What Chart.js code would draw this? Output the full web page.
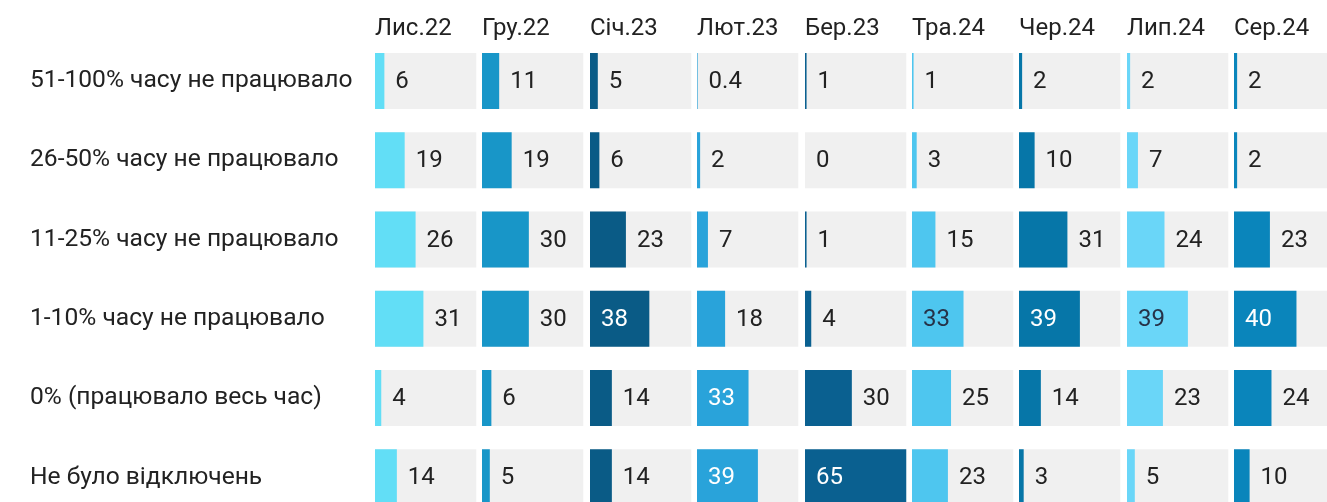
<!DOCTYPE html>
<html>
<head>
<meta charset="utf-8">
<script src="https://cdn.jsdelivr.net/npm/chart.js@4.4.1/dist/chart.umd.min.js"></script>
<style>
  html, body { margin: 0; padding: 0; background: #ffffff; }
  body { width: 1327px; height: 502px; overflow: hidden; position: relative; }
  canvas { position: absolute; top: 0; }
</style>
</head>
<body>
<script>
// ---- data ----
const categories = [
  '51-100% часу не працювало',
  '26-50% часу не працювало',
  '11-25% часу не працювало',
  '1-10% часу не працювало',
  '0% (працювало весь час)',
  'Не було відключень'
];
const months = ['Лис.22', 'Гру.22', 'Січ.23', 'Лют.23', 'Бер.23', 'Тра.24', 'Чер.24', 'Лип.24', 'Сер.24'];

const lis22 = [6, 19, 26, 31, 4, 14];
const gru22 = [11, 19, 30, 30, 6, 5];
const sich23 = [5, 6, 23, 38, 14, 14];
const lyut23 = [0.4, 2, 7, 18, 33, 39];
const ber23 = [1, 0, 1, 4, 30, 65];
const tra24 = [1, 3, 15, 33, 25, 23];
const cher24 = [2, 10, 31, 39, 14, 3];
const lyp24 = [2, 7, 24, 39, 23, 5];
const ser24 = [2, 2, 23, 40, 24, 10];

const series = [lis22, gru22, sich23, lyut23, ber23, tra24, cher24, lyp24, ser24];
const scaleMax = 65;

// ---- styles ----
const barColors = ['#62def6', '#1896c8', '#0a5b86', '#29a3da', '#0a6090', '#4ec6ef', '#0676a8', '#6ad6f8', '#0a85bb'];
const insideText = ['#263248', '#ffffff', '#ffffff', '#ffffff', '#ffffff', '#263248', '#ffffff', '#263248', '#ffffff'];
const trackColor = '#f0f0f0';
const textColor = '#222222';
const FONT = 'Roboto, "Liberation Sans", Arial, sans-serif';
const FS = 24;

const firstLeft = 375;
const pitch = 107.4;
const plotW = 101.5;
const colCanvasW = 107;
const canvasH = 517;

const valueLabels = {
  id: 'valueLabels',
  afterDatasetsDraw(chart) {
    const ctx = chart.ctx;
    const meta = chart.getDatasetMeta(0);
    const vals = chart.data.datasets[0].data;
    const idx = chart.options.plugins.valueLabels.col;
    ctx.save();
    ctx.font = FS + 'px ' + FONT;
    ctx.textBaseline = 'middle';
    ctx.textAlign = 'left';
    meta.data.forEach((bar, i) => {
      const v = vals[i];
      const inside = v >= 32;
      ctx.fillStyle = inside ? insideText[idx] : textColor;
      const x = inside ? bar.base + 11 : bar.x + 11;
      ctx.fillText(String(v), x, bar.y + 1);
    });
    ctx.restore();
  }
};

function makeChart(i) {
  const isFirst = i === 0;
  const canvas = document.createElement('canvas');
  const left = isFirst ? 0 : firstLeft + i * pitch;
  const w = isFirst ? Math.round(firstLeft + plotW + 5.5) : colCanvasW;
  canvas.width = w;
  canvas.height = canvasH;
  canvas.style.width = w + 'px';
  canvas.style.height = canvasH + 'px';
  canvas.style.left = left + 'px';
  document.body.appendChild(canvas);

  const leftPad = isFirst ? 30 : 0;
  const rightPad = w - (isFirst ? firstLeft : 0) - plotW;

  new Chart(canvas, {
    type: 'bar',
    data: {
      labels: categories,
      datasets: [
        {
          label: months[i],
          data: series[i],
          backgroundColor: barColors[i],
          grouped: false,
          barPercentage: 1,
          categoryPercentage: 56 / 79.2,
          order: 0
        },
        {
          label: 'track',
          data: categories.map(() => scaleMax),
          backgroundColor: trackColor,
          grouped: false,
          barPercentage: 1,
          categoryPercentage: 56 / 79.2,
          order: 1
        }
      ]
    },
    options: {
      indexAxis: 'y',
      responsive: false,
      animation: false,
      devicePixelRatio: 1,
      layout: { padding: { left: leftPad, right: rightPad, top: 0, bottom: 0 } },
      scales: {
        x: { display: false, min: 0, max: scaleMax },
        y: {
          display: isFirst,
          grid: { display: false },
          border: { display: false },
          ticks: {
            crossAlign: 'far',
            padding: 0,
            color: textColor,
            font: { family: FONT, size: 24.6 }
          },
          afterFit: (scale) => {
            if (isFirst) {
              scale.width = firstLeft - 30;
              scale.paddingTop = 0;
              scale.paddingBottom = 0;
            }
          }
        }
      },
      plugins: {
        legend: { display: false },
        tooltip: { enabled: false },
        title: {
          display: true,
          text: months[i],
          align: 'start',
          fullSize: false,
          color: textColor,
          font: { family: FONT, size: FS, weight: 'normal', lineHeight: 1.0 },
          padding: { top: 16.5, bottom: 0.9 }
        },
        valueLabels: { col: i }
      }
    },
    plugins: [valueLabels]
  });
}

for (let i = 0; i < months.length; i++) makeChart(i);
</script>
</body>
</html>
